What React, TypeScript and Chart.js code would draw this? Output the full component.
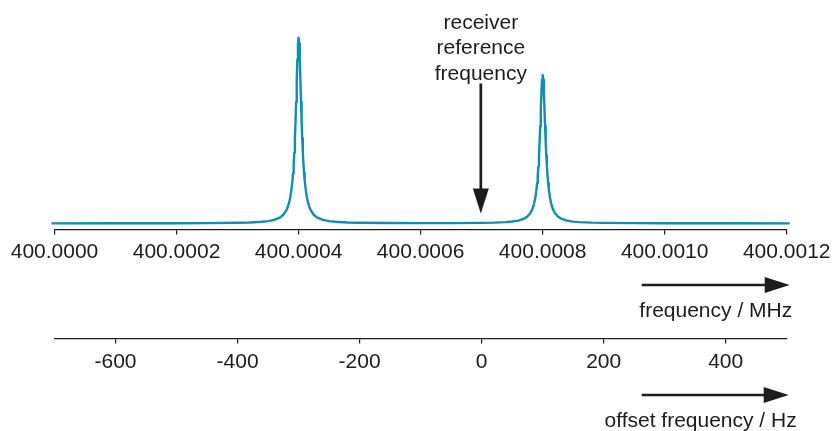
import React, { useEffect, useRef } from "react";
import { Chart, registerables } from "chart.js";

Chart.register(...registerables);

// ---- data (offset frequency in Hz relative to the receiver at 400.0007 MHz) ----
const receiverMHz = 400.0007;
const receiverHz = 0;

const offsetHz = [
  -705, -600, -500, -450, -400, -380, -360, -350, -340, -330, -325, -320, -318, -316, -314, -312,
  -310, -309, -308, -307, -306, -305, -304, -303, -302, -301, -300, -299, -298, -297, -296, -295,
  -294, -293, -292, -291, -290, -288, -286, -284, -282, -280, -275, -270, -260, -250, -240, -220,
  -200, -150, -100, -50, 0, 20, 40, 50, 60, 70, 75, 80, 82, 84, 86, 88, 90, 91, 92, 93, 94, 95,
  96, 97, 98, 99, 100, 101, 102, 103, 104, 105, 106, 107, 108, 109, 110, 112, 114, 116, 118, 120,
  125, 130, 140, 150, 160, 180, 200, 250, 300, 400, 505,
];

const intensity = [
  0.02, 0.04, 0.08, 0.14, 0.31, 0.48, 0.84, 1.21, 1.87, 3.26, 4.63, 7.04, 8.55, 10.6, 13.4, 17.4,
  23.2, 27.2, 32.1, 38.2, 45.7, 54.8, 65.4, 77.1, 88.3, 96.8, 100, 96.8, 88.3, 77.1, 65.4, 54.8,
  45.7, 38.2, 32.1, 27.2, 23.2, 17.4, 13.4, 10.6, 8.55, 7.04, 4.63, 3.26, 1.87, 1.22, 0.85, 0.49,
  0.32, 0.18, 0.14, 0.14, 0.27, 0.40, 0.68, 0.98, 1.5, 2.61, 3.7, 5.63, 6.83, 8.48, 10.7, 13.9,
  18.6, 21.8, 25.7, 30.6, 36.6, 43.8, 52.3, 61.7, 70.6, 77.4, 80, 77.4, 70.6, 61.7, 52.3, 43.8,
  36.6, 30.6, 25.7, 21.8, 18.6, 13.9, 10.7, 8.48, 6.83, 5.63, 3.7, 2.61, 1.49, 0.97, 0.67, 0.38,
  0.25, 0.11, 0.07, 0.04, 0.02,
];

// top axis: absolute frequency (MHz); tick positions expressed as offsets in Hz
const mhzTickHz = [-700, -500, -300, -100, 100, 300, 500];
const mhzTickLabels = ["400.0000", "400.0002", "400.0004", "400.0006", "400.0008", "400.0010", "400.0012"];

// bottom axis: offset frequency (Hz)
const hzTicks = [-600, -400, -200, 0, 200, 400];

const receiverLabel = ["receiver", "reference", "frequency"];
const mhzTitle = "frequency / MHz";
const hzTitle = "offset frequency / Hz";

const ink = "#1c1c1c";
const lineColor = "#108db4";
const FONT = '"Liberation Sans", Arial, Helvetica, sans-serif';

function arrow(ctx: CanvasRenderingContext2D, x1: number, y1: number, x2: number, y2: number) {
  const len = Math.hypot(x2 - x1, y2 - y1);
  const ux = (x2 - x1) / len;
  const uy = (y2 - y1) / len;
  const head = 25;
  const half = 8;
  const bx = x2 - ux * head;
  const by = y2 - uy * head;
  ctx.lineWidth = 2.7;
  ctx.beginPath();
  ctx.moveTo(x1, y1);
  ctx.lineTo(bx + ux * 2, by + uy * 2);
  ctx.stroke();
  ctx.beginPath();
  ctx.moveTo(x2, y2);
  ctx.lineTo(bx - uy * half, by + ux * half);
  ctx.lineTo(bx + uy * half, by - ux * half);
  ctx.closePath();
  ctx.fill();
}

const annotate = {
  id: "annotate",
  afterDraw(chart: any) {
    const { ctx } = chart;
    const xs = chart.scales.x;
    const x2 = chart.scales.x2;
    ctx.save();
    ctx.fillStyle = ink;
    ctx.strokeStyle = ink;
    ctx.font = `21px ${FONT}`;
    ctx.textBaseline = "alphabetic";

    // receiver reference frequency
    const rx = xs.getPixelForValue(receiverHz) - 0.8;
    ctx.textAlign = "center";
    receiverLabel.forEach((t, i) => ctx.fillText(t, rx, 28.5 + i * 25.5));
    arrow(ctx, rx, 83.5, rx, 213.5);

    // frequency / MHz
    arrow(ctx, xs.right - 145, xs.top + 55.5, xs.right + 3, xs.top + 55.5);
    ctx.textAlign = "right";
    ctx.fillText(mhzTitle, xs.right + 5.5, xs.top + 87.5);

    // offset frequency / Hz
    arrow(ctx, x2.right - 145, x2.top + 56.5, x2.right + 2, x2.top + 56.5);
    ctx.textAlign = "right";
    ctx.fillText(hzTitle, x2.right + 10, x2.top + 88.5);
    ctx.restore();
  },
};

export default function App() {
  const ref = useRef<HTMLCanvasElement>(null);

  useEffect(() => {
    if (!ref.current) return;
    Chart.defaults.font.family = FONT;
    const points = offsetHz.map((x, i) => ({ x, y: intensity[i] }));
    const tickFont = { size: 21, family: FONT };
    const chart = new Chart(ref.current, {
      type: "line",
      data: {
        datasets: [
          {
            data: points,
            borderColor: lineColor,
            borderWidth: 2.4,
            pointRadius: 0,
            tension: 0,
            borderJoinStyle: "round",
            fill: false,
            clip: 8,
          } as any,
        ],
      },
      options: {
        animation: false,
        responsive: true,
        maintainAspectRatio: false,
        layout: { padding: { left: 54.5, right: 46, top: 19.2, bottom: 0 } },
        plugins: { legend: { display: false }, tooltip: { enabled: false }, title: { display: false } },
        scales: {
          x: {
            type: "linear",
            position: "bottom",
            weight: 0,
            min: -700,
            max: 500,
            afterBuildTicks: (axis: any) => {
              axis.ticks = mhzTickHz.map((v) => ({ value: v }));
            },
            afterFit: (axis: any) => {
              axis.height = 109;
            },
            ticks: {
              color: ink,
              font: tickFont,
              padding: 5.5,
              maxRotation: 0,
              autoSkip: false,
              callback: (_v: any, i: number) => mhzTickLabels[i],
            },
            grid: { drawOnChartArea: false, drawTicks: true, tickLength: 5, color: ink, lineWidth: 1.2 },
            border: { display: true, color: ink, width: 1.2 },
          },
          x2: {
            type: "linear",
            position: "bottom",
            weight: 1,
            min: -700,
            max: 500,
            afterBuildTicks: (axis: any) => {
              axis.ticks = hzTicks.map((v) => ({ value: v }));
            },
            afterFit: (axis: any) => {
              axis.height = 92.5;
            },
            ticks: {
              color: ink,
              font: tickFont,
              padding: 6,
              maxRotation: 0,
              autoSkip: false,
              callback: (v: any) => String(v),
            },
            grid: { drawOnChartArea: false, drawTicks: true, tickLength: 5, color: ink, lineWidth: 1.2 },
            border: { display: true, color: ink, width: 1.2 },
          },
          y: {
            type: "linear",
            display: false,
            min: -3.3,
            max: 110,
          },
        },
      } as any,
      plugins: [annotate],
    });
    return () => chart.destroy();
  }, []);

  return (
    <div style={{ position: "fixed", left: 0, top: 0, width: 836, height: 431, background: "#fff" }}>
      <canvas ref={ref} />
    </div>
  );
}
